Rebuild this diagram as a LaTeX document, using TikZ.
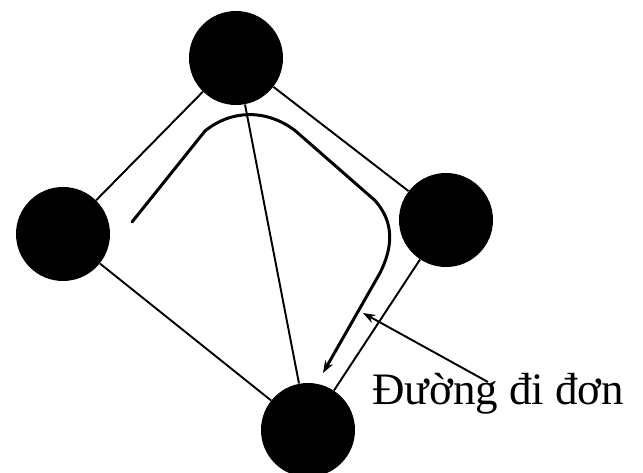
\documentclass[tikz,border=0pt]{standalone}
\usepackage{fontspec}
\setmainfont{Liberation Serif}
\usetikzlibrary{arrows.meta}

\begin{document}
\begin{tikzpicture}[>={Stealth[length=7pt,width=5pt]},
    vertex/.style={circle, fill=black, inner sep=0pt, minimum size=1.88cm},
    edge/.style={line width=1.1pt},
    walk/.style={line width=1.7pt, line cap=round, line join=round}]
    \useasboundingbox (0,0) rectangle (12.86,9.46);

    % the four vertices
    \node[vertex] (top) at (4.72,8.30) {};
    \node[vertex] (left) at (1.26,4.78) {};
    \node[vertex] (right) at (8.92,5.06) {};
    \node[vertex] (bottom) at (6.16,0.86) {};

    \draw[edge] (top) -- (left);
    \draw[edge] (top) -- (right);
    \draw[edge] (top) -- (bottom);
    \draw[edge] (left) -- (bottom);
    \draw[edge] (right) -- (bottom);

    % simple path
    \draw[walk, ->] (2.64,5.02) -- (4.1,6.84) .. controls (4.6,7.25) and (5.3,7.3) .. (5.9,6.85)
        -- (7.5,5.45) .. controls (7.9,5.0) and (7.85,4.5) .. (7.6,4.0) -- (6.46,2.0);

    \node[anchor=base west, inner sep=0pt] (name) at (7.44,1.36)
        {\fontsize{25.6}{30}\selectfont Đường đi đơn};
    \coordinate (tail) at (9.76,1.82);
    \coordinate (tip) at (7.26,3.20);
    \draw[edge, ->] (tail) -- (tip);
\end{tikzpicture}
\end{document}
